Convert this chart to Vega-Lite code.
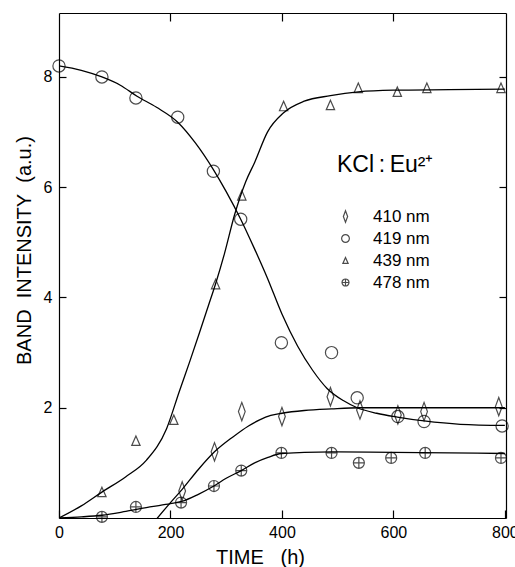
{
  "$schema": "https://vega.github.io/schema/vega-lite/v6.json",
  "autosize": {"type": "none"},
  "padding": {"left": 59, "top": 13, "right": 9, "bottom": 49},
  "width": 447,
  "height": 505,
  "background": "white",
  "config": {
    "view": {"stroke": null},
    "font": "Liberation Sans",
    "axis": {"domainColor": "black", "domainWidth": 1.2, "tickColor": "black", "tickWidth": 1.2, "labelColor": "black", "titleColor": "black", "grid": false, "labelFont": "Liberation Sans", "titleFont": "Liberation Sans", "titleFontWeight": "normal"}
  },
  "datasets": {
    "curves": [
      {"series": "419 nm", "t": 0, "v": 8.2}, {"series": "419 nm", "t": 40, "v": 8.12}, {"series": "419 nm", "t": 77, "v": 8.0}, {"series": "419 nm", "t": 110, "v": 7.85}, {"series": "419 nm", "t": 140, "v": 7.65}, {"series": "419 nm", "t": 175, "v": 7.45}, {"series": "419 nm", "t": 213, "v": 7.18}, {"series": "419 nm", "t": 245, "v": 6.8}, {"series": "419 nm", "t": 277, "v": 6.32}, {"series": "419 nm", "t": 300, "v": 5.92}, {"series": "419 nm", "t": 326, "v": 5.42}, {"series": "419 nm", "t": 350, "v": 4.9}, {"series": "419 nm", "t": 374, "v": 4.35}, {"series": "419 nm", "t": 400, "v": 3.7}, {"series": "419 nm", "t": 428, "v": 3.12}, {"series": "419 nm", "t": 455, "v": 2.68}, {"series": "419 nm", "t": 481, "v": 2.35}, {"series": "419 nm", "t": 510, "v": 2.13}, {"series": "419 nm", "t": 535, "v": 2.0}, {"series": "419 nm", "t": 570, "v": 1.9}, {"series": "419 nm", "t": 607, "v": 1.83}, {"series": "419 nm", "t": 655, "v": 1.76}, {"series": "419 nm", "t": 720, "v": 1.7}, {"series": "419 nm", "t": 800, "v": 1.68},
      {"series": "439 nm", "t": 0, "v": 0}, {"series": "439 nm", "t": 40, "v": 0.22}, {"series": "439 nm", "t": 77, "v": 0.47}, {"series": "439 nm", "t": 120, "v": 0.75}, {"series": "439 nm", "t": 157, "v": 1.05}, {"series": "439 nm", "t": 193, "v": 1.62}, {"series": "439 nm", "t": 216, "v": 2.3}, {"series": "439 nm", "t": 235, "v": 2.85}, {"series": "439 nm", "t": 252, "v": 3.36}, {"series": "439 nm", "t": 268, "v": 3.85}, {"series": "439 nm", "t": 281, "v": 4.25}, {"series": "439 nm", "t": 297, "v": 4.8}, {"series": "439 nm", "t": 315, "v": 5.5}, {"series": "439 nm", "t": 335, "v": 6.1}, {"series": "439 nm", "t": 351, "v": 6.45}, {"series": "439 nm", "t": 374, "v": 7.0}, {"series": "439 nm", "t": 403, "v": 7.35}, {"series": "439 nm", "t": 440, "v": 7.56}, {"series": "439 nm", "t": 487, "v": 7.66}, {"series": "439 nm", "t": 537, "v": 7.73}, {"series": "439 nm", "t": 600, "v": 7.76}, {"series": "439 nm", "t": 700, "v": 7.77}, {"series": "439 nm", "t": 800, "v": 7.78},
      {"series": "410 nm", "t": 170, "v": -0.08}, {"series": "410 nm", "t": 200, "v": 0.28}, {"series": "410 nm", "t": 221, "v": 0.52}, {"series": "410 nm", "t": 250, "v": 0.88}, {"series": "410 nm", "t": 279, "v": 1.2}, {"series": "410 nm", "t": 312, "v": 1.47}, {"series": "410 nm", "t": 340, "v": 1.67}, {"series": "410 nm", "t": 360, "v": 1.78}, {"series": "410 nm", "t": 380, "v": 1.86}, {"series": "410 nm", "t": 400, "v": 1.9}, {"series": "410 nm", "t": 440, "v": 1.95}, {"series": "410 nm", "t": 489, "v": 1.98}, {"series": "410 nm", "t": 540, "v": 2.0}, {"series": "410 nm", "t": 600, "v": 2.0}, {"series": "410 nm", "t": 700, "v": 2.0}, {"series": "410 nm", "t": 800, "v": 2.0},
      {"series": "478 nm", "t": 0, "v": 0}, {"series": "478 nm", "t": 40, "v": 0.02}, {"series": "478 nm", "t": 77, "v": 0.05}, {"series": "478 nm", "t": 120, "v": 0.12}, {"series": "478 nm", "t": 163, "v": 0.2}, {"series": "478 nm", "t": 200, "v": 0.26}, {"series": "478 nm", "t": 220, "v": 0.3}, {"series": "478 nm", "t": 250, "v": 0.43}, {"series": "478 nm", "t": 278, "v": 0.58}, {"series": "478 nm", "t": 300, "v": 0.72}, {"series": "478 nm", "t": 327, "v": 0.86}, {"series": "478 nm", "t": 351, "v": 1.0}, {"series": "478 nm", "t": 375, "v": 1.1}, {"series": "478 nm", "t": 399, "v": 1.17}, {"series": "478 nm", "t": 440, "v": 1.19}, {"series": "478 nm", "t": 489, "v": 1.2}, {"series": "478 nm", "t": 600, "v": 1.19}, {"series": "478 nm", "t": 700, "v": 1.18}, {"series": "478 nm", "t": 800, "v": 1.17}
    ],
    "points": [
      {"series": "410 nm", "t": 221, "v": 0.49}, {"series": "410 nm", "t": 279, "v": 1.2}, {"series": "410 nm", "t": 328, "v": 1.93}, {"series": "410 nm", "t": 400, "v": 1.84}, {"series": "410 nm", "t": 487, "v": 2.2}, {"series": "410 nm", "t": 540, "v": 1.96}, {"series": "410 nm", "t": 608, "v": 1.87}, {"series": "410 nm", "t": 655, "v": 1.93}, {"series": "410 nm", "t": 789, "v": 2.02},
      {"series": "419 nm", "t": 0, "v": 8.2}, {"series": "419 nm", "t": 77, "v": 8.0}, {"series": "419 nm", "t": 138, "v": 7.62}, {"series": "419 nm", "t": 213, "v": 7.27}, {"series": "419 nm", "t": 277, "v": 6.29}, {"series": "419 nm", "t": 326, "v": 5.42}, {"series": "419 nm", "t": 399, "v": 3.18}, {"series": "419 nm", "t": 489, "v": 3.0}, {"series": "419 nm", "t": 535, "v": 2.18}, {"series": "419 nm", "t": 608, "v": 1.84}, {"series": "419 nm", "t": 655, "v": 1.75}, {"series": "419 nm", "t": 795, "v": 1.67},
      {"series": "439 nm", "t": 77, "v": 0.47}, {"series": "439 nm", "t": 138, "v": 1.4}, {"series": "439 nm", "t": 206, "v": 1.78}, {"series": "439 nm", "t": 281, "v": 4.24}, {"series": "439 nm", "t": 328, "v": 5.85}, {"series": "439 nm", "t": 403, "v": 7.47}, {"series": "439 nm", "t": 487, "v": 7.49}, {"series": "439 nm", "t": 537, "v": 7.8}, {"series": "439 nm", "t": 607, "v": 7.73}, {"series": "439 nm", "t": 660, "v": 7.8}, {"series": "439 nm", "t": 793, "v": 7.8},
      {"series": "478 nm", "t": 77, "v": 0.02}, {"series": "478 nm", "t": 138, "v": 0.2}, {"series": "478 nm", "t": 219, "v": 0.28}, {"series": "478 nm", "t": 278, "v": 0.58}, {"series": "478 nm", "t": 327, "v": 0.86}, {"series": "478 nm", "t": 399, "v": 1.18}, {"series": "478 nm", "t": 489, "v": 1.18}, {"series": "478 nm", "t": 538, "v": 1.0}, {"series": "478 nm", "t": 596, "v": 1.09}, {"series": "478 nm", "t": 657, "v": 1.18}, {"series": "478 nm", "t": 793, "v": 1.09}
    ]
  },
  "layer": [
    {
      "data": {"name": "curves"},
      "mark": {"type": "line", "interpolate": "monotone", "color": "black", "strokeWidth": 1.3, "clip": true},
      "encoding": {
        "x": {"field": "t", "type": "quantitative", "scale": {"domain": [0, 802], "nice": false, "zero": false},
          "axis": {"orient": "bottom", "values": [0, 200, 400, 600, 800], "tickSize": -8, "labelPadding": 14, "labelFontSize": 16, "labelFlush": false,
            "title": "TIME\u00a0\u00a0\u00a0(h)", "titleFontSize": 20, "titleX": 201, "titleY": 45, "titleBaseline": "alphabetic", "titleAlign": "center"}},
        "y": {"field": "v", "type": "quantitative", "scale": {"domain": [0, 9.16], "nice": false},
          "axis": {"orient": "left", "values": [2, 4, 6, 8], "tickSize": -7, "labelPadding": 14, "labelFontSize": 16,
            "title": "BAND\u00a0\u00a0INTENSITY\u00a0\u00a0(a.u.)", "titleFontSize": 20, "titleAngle": -90, "titleX": -35, "titleY": 237, "titleBaseline": "middle", "titleAlign": "center"}},
        "detail": {"field": "series", "type": "nominal"}
      }
    },
    {
      "data": {"name": "points"},
      "mark": {"type": "point", "filled": false, "color": "black", "strokeWidth": 1.2, "size": 150, "clip": false},
      "encoding": {
        "x": {"field": "t", "type": "quantitative",
          "axis": {"orient": "top", "values": [200, 400, 600], "tickSize": -8, "labels": false, "title": null}},
        "y": {"field": "v", "type": "quantitative",
          "axis": {"orient": "right", "values": [2, 4, 6, 8], "tickSize": -7, "labels": false, "title": null}},
        "shape": {"field": "series", "type": "nominal",
          "scale": {"domain": ["410 nm", "419 nm", "439 nm", "478 nm"],
            "range": ["M0,-1.5L0.55,0L0,1.5L-0.55,0Z", "circle", "M0,-0.8L0.68,0.75L-0.68,0.75Z", "M-0.9,0A0.9,0.9,0,1,1,0.9,0A0.9,0.9,0,1,1,-0.9,0ZM-0.9,0L0.9,0M0,-0.9L0,0.9"]},
          "legend": {"orient": "none", "legendX": 278, "legendY": 141, "title": "KCl\u2009:\u2009Eu²⁺", "titleFontSize": 23, "titleFont": "Liberation Sans", "titleFontWeight": "normal", "titleColor": "black", "titlePadding": 31,
            "labelFontSize": 17, "labelFont": "Liberation Sans", "labelColor": "black", "labelOffset": 19, "rowPadding": 4, "symbolSize": 60, "symbolStrokeColor": "black", "symbolStrokeWidth": 1.2, "symbolFillColor": "transparent", "padding": 0}}
      }
    }
  ],
  "resolve": {"axis": {"x": "independent", "y": "independent"}}
}
